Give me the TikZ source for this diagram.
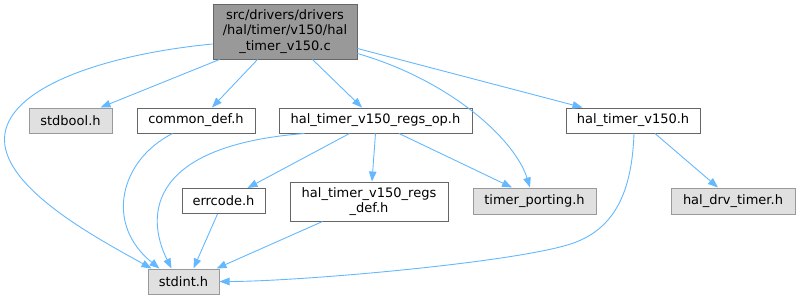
\documentclass[tikz,border=0pt]{standalone}
\usepackage{fontspec}
\setmainfont{DejaVu Sans}
\usetikzlibrary{arrows.meta,calc}
\definecolor{edgec}{HTML}{63B8FF}
\definecolor{rootfill}{HTML}{999999}
\definecolor{darkb}{HTML}{666666}
\definecolor{lightb}{HTML}{999999}
\definecolor{grayfill}{HTML}{E0E0E0}
\tikzset{
  filebox/.style={draw=darkb, fill=white, line width=1pt, inner sep=0pt, font=\fontsize{13}{15.5}\selectfont, align=center},
  extbox/.style={filebox, draw=lightb, fill=grayfill},
  rootbox/.style={filebox, draw=darkb, fill=rootfill},
  dep/.style={draw=edgec, line width=0.9pt, -{Triangle[length=10pt,width=7.5pt]}},
}
\begin{document}
\begin{tikzpicture}[x=1pt,y=-1pt]
\useasboundingbox (0,0) rectangle (801,300);
\node[rootbox, minimum width=144pt, minimum height=55pt] (root) at (285,31.5) {src/drivers/drivers\\/hal/timer/v150/hal\\\_timer\_v150.c};
\node[extbox, minimum width=83pt, minimum height=25pt] (stdbool) at (70.5,120.5) {stdbool.h};
\node[filebox, minimum width=118pt, minimum height=25pt] (common) at (196,120.5) {common\_def.h};
\node[filebox, minimum width=193pt, minimum height=25pt] (regsop) at (375.5,120.5) {hal\_timer\_v150\_regs\_op.h};
\node[filebox, minimum width=134pt, minimum height=25pt] (hal) at (633,120.5) {hal\_timer\_v150.h};
\node[filebox, minimum width=83pt, minimum height=25pt] (errcode) at (223.5,201) {errcode.h};
\node[filebox, minimum width=158pt, minimum height=39pt] (regsdef) at (369,201.5) {hal\_timer\_v150\_regs\\\_def.h};
\node[extbox, minimum width=123pt, minimum height=26pt] (porting) at (534.5,201) {timer\_porting.h};
\node[extbox, minimum width=124pt, minimum height=26pt] (drv) at (733,201) {hal\_drv\_timer.h};
\node[extbox, minimum width=71pt, minimum height=25pt] (stdint) at (183.5,281.5) {stdint.h};

% root edges
\draw[dep] ($(root.south west)+(7,0)$) -- ($(stdbool.north east)+(-12,0)$);
\draw[dep] ($(root.south west)+(45,0)$) -- ($(common.north)+(16,0)$);
\draw[dep] ($(root.south west)+(100,0)$) -- ($(regsop.north)+(-13.5,0)$);
\draw[dep] ($(root.south east)+(0,-11)$) -- ($(hal.north west)+(17,0)$);
\draw[dep] ($(root.south east)+(0,-6)$) .. controls +(93,27) and +(-15,-48) .. ($(porting.north)+(-4.5,0)$);
\draw[dep] ($(root.west)+(0,12.5)$) .. controls +(-113,11) and +(0,-50) .. ($(stdint.north west)+(-143,-129)$)
   .. controls +(0,50) and +(-52,-29) .. ($(stdint.north west)+(4,0)$);
% common_def
\draw[dep] ($(common.south west)+(36,0)$) .. controls +(-53,27) and +(-55,-44) .. ($(stdint.north west)+(12,0)$);
% regs_op
\draw[dep] ($(regsop.south west)+(26,0)$) .. controls +(-155,12) and +(-27,-54) .. ($(stdint.north west)+(24,0)$);
\draw[dep] ($(regsop.south west)+(71,0)$) -- ($(errcode.north)+(24,0)$);
\draw[dep] (regsop.south) -- ($(regsdef.north)+(3,0)$);
\draw[dep] ($(regsop.south)+(23.5,0)$) -- ($(porting.north)+(-22.5,0)$);
% errcode, regs_def
\draw[dep] ($(errcode.south)+(-6,0)$) -- ($(stdint.north)+(10,0)$);
\draw[dep] ($(regsdef.south west)+(33,0)$) -- ($(stdint.north east)+(-3,0)$);
% hal
\draw[dep] ($(hal.south)+(22,0)$) -- ($(drv.north)+(-15,0)$);
\draw[dep] ($(hal.south)+(1,0)$) .. controls +(-2,57) and +(42,-15) .. ($(stdint.east)+(354,-38.5)$)
   .. controls +(-53,19) and +(81,0) .. (stdint.east);
\end{tikzpicture}
\end{document}
